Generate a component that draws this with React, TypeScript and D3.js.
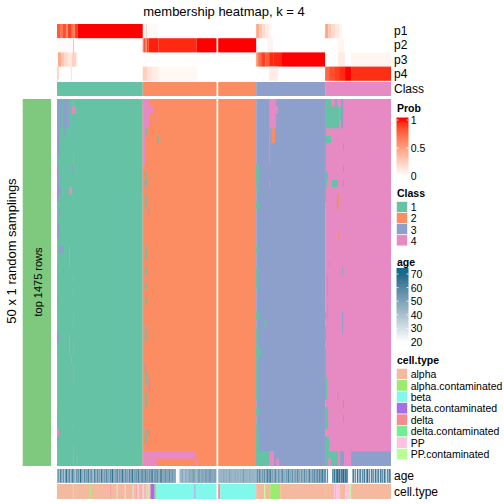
import React from "react";
import * as d3 from "d3";

// ---------------- data ----------------
const classNames = ["1", "2", "3", "4"];
const classColors = ["#66C2A5", "#FC8D62", "#8DA0CB", "#E78AC3"];
const classCounts = [86, 112, 69, 66];
const splitCol = 160;
const nRows = 50;

const cellTypes = ["alpha", "alpha.contaminated", "beta", "beta.contaminated", "delta", "delta.contaminated", "PP", "PP.contaminated"];
const cellTypeColors = ["#F5B9A0", "#9DEB6E", "#80F8EA", "#A36EE6", "#F38B92", "#72ED94", "#FFC3E1", "#B8FE96"];
// [typeIndex, count]
const cellTypeRuns: [number, number][] = [
  [0, 16], [2, 1], [0, 3], [1, 1], [0, 12], [1, 1], [0, 19], [4, 1], [0, 6], [2, 1], [0, 7], [6, 1], [0, 7], [2, 1], [0, 2], [4, 1], [0, 1], [6, 1], [0, 2], [4, 1], [0, 1],
  [6, 1], [0, 1], [4, 1], [6, 1], [1, 1], [0, 1], [7, 1], [4, 1], [3, 4], [5, 2], [2, 38], [3, 1], [2, 21],
  [4, 2], [2, 36],
  [0, 8], [7, 1], [0, 5], [1, 10], [0, 45],
  [0, 9], [6, 1], [0, 1], [6, 4], [0, 5], [6, 5], [7, 1], [0, 40],
];

const ageC1 = [45, 52, 40, 60, 48, 42, 55, 38, 50, 66, 44, 48, 58, 41, 47, 62, 50, 44, 39, 53,
  48, 56, 42, 68, 50, 46, 40, 59, 44, 51, 47, 63, 42, 49, 55, 45, 38, 61, 50, 43,
  57, 46, 52, 40, 66, 48, 44, 54, 42, 60, 47, 50, 41, 58, 45, 69, 49, 43, 52, 46,
  62, 40, 55, 48, 44, 67, 50, 42, 57, 46, 53, 39, 61, 48, 45, 70, 44, 51, 47, 56,
  43, 64, 49, 45, 52, 58];
const ageC2a = [50, 44, 62, 47, 55, 41, 58, 46, 52, 66, 43, 49, 57, 45, 60, 48, 42, 54, 65, 46,
  51, 44, 59, 47, 53, 40, 63, 48, 45, 56, 50, 42, 61, 22, 20, 21, 24, 47, 38, 52,
  44, 35, 50, 41, 48, 36, 55, 42, 50, 40, 58, 45, 52, 38, 48, 44, 60, 41, 50, 46,
  55, 43, 49, 58, 45, 51, 47, 62, 44, 53, 48, 46, 57, 45];
const ageC2b = [44, 46, 45, 47, 44, 50, 46, 45, 48, 44, 46, 52, 45, 47, 44, 46, 45, 49, 44, 47,
  46, 44, 48, 45, 46, 55, 44, 47, 45, 46, 44, 50, 46, 45, 47, 44, 46, 45];
const ageC3 = [48, 58, 46, 62, 50, 45, 55, 47, 60, 44, 52, 66, 48, 58, 64, 46, 53, 45, 50, 61,
  47, 44, 56, 49, 45, 52, 60, 46, 48, 44, 55, 47, 63, 45, 50, 46, 58, 44, 49, 52,
  45, 61, 47, 50, 44, 56, 48, 45, 59, 46, 52, 44, 50, 62, 47, 45, 55, 49, 60, 46,
  53, 58, 47, 62, 50, 55, 64, 48, 57];
const ageC4 = [55, 30, 60, 22, 20, 21, 20, 58, 50, 66, 45, 62, 70, 55, 68, 48, 64, 59, 70, 52,
  66, 61, 56, 22, 20, 21, 20, 45, 62, 40, 55, 28, 66, 38, 50, 60, 33, 58, 44, 63,
  36, 52, 68, 40, 57, 30, 61, 47, 54, 35, 65, 42, 50, 59, 32, 62, 46, 55, 38, 64,
  48, 30, 57, 44, 60, 50];

// [startCol, endCol, prob]
const p1Runs: [number, number, number][] = [
  [0, 2, 0.8], [3, 5, 0.7], [6, 8, 0.85], [9, 10, 0.6], [11, 13, 0.9], [14, 15, 0.75], [16, 17, 0.65], [18, 20, 0.9], [21, 85, 1],
  [89, 89, 0.4], [90, 100, 0.03],
  [198, 200, 0.45], [201, 203, 0.3], [204, 206, 0.2], [207, 210, 0.1], [211, 212, 0.05],
  [267, 269, 0.45], [270, 272, 0.3], [273, 276, 0.2], [277, 280, 0.12], [281, 283, 0.06],
];
const p2Runs: [number, number, number][] = [
  [0, 15, 0.02], [16, 16, 0.35],
  [86, 86, 0.7], [87, 88, 0.85], [89, 89, 0.6], [90, 91, 0.9], [92, 101, 0.97], [102, 139, 0.955], [140, 197, 1],
  [209, 214, 0.06], [280, 285, 0.05],
];
const p3Runs: [number, number, number][] = [
  [1, 3, 0.45], [4, 6, 0.3], [7, 10, 0.2], [11, 14, 0.12], [15, 18, 0.25], [19, 20, 0.08],
  [198, 199, 0.55], [200, 202, 0.75], [203, 206, 0.9], [207, 210, 0.8], [211, 214, 0.95], [215, 222, 0.96], [223, 266, 1],
  [280, 286, 0.1], [293, 332, 0.05],
];
const p4Runs: [number, number, number][] = [
  [0, 1, 0.2], [14, 14, 0.15],
  [86, 90, 0.25], [91, 95, 0.15], [96, 101, 0.1], [102, 140, 0.04],
  [211, 219, 0.1],
  [267, 270, 0.75], [271, 275, 0.85], [276, 280, 0.9], [281, 286, 0.95], [287, 292, 1], [293, 332, 0.94],
];
const probRows = [p1Runs, p2Runs, p3Runs, p4Runs];
const probLabels = ["p1", "p2", "p3", "p4"];

// deviations from column class in the sampling matrix: [row0, row1, col0, col1, class]
const deviations: [number, number, number, number, number][] = [
  [0, 3, 0, 4, 3], [4, 7, 0, 2, 3], [0, 3, 6, 11, 3], [4, 4, 6, 8, 3], [1, 1, 15, 18, 4], [0, 1, 16, 16, 2],
  [7, 8, 16, 16, 2], [9, 9, 15, 15, 3], [9, 13, 0, 1, 3], [12, 12, 2, 3, 3], [12, 12, 12, 14, 4], [13, 13, 16, 16, 2],
  [14, 15, 0, 0, 4], [15, 15, 1, 2, 3], [17, 18, 1, 2, 3], [19, 22, 0, 0, 4], [20, 20, 2, 6, 3], [20, 22, 12, 12, 4],
  [23, 23, 6, 6, 3], [24, 24, 16, 16, 2], [26, 26, 16, 16, 2], [27, 27, 2, 2, 3], [29, 30, 16, 16, 2], [32, 32, 0, 1, 3],
  [32, 34, 12, 12, 4], [33, 34, 16, 16, 2], [35, 35, 14, 14, 4], [35, 38, 0, 0, 4], [36, 38, 16, 16, 2], [38, 41, 0, 0, 4],
  [38, 38, 16, 16, 2], [41, 41, 2, 2, 3], [43, 43, 2, 2, 3], [44, 44, 16, 16, 2], [45, 46, 2, 2, 3], [45, 45, 0, 1, 4],
  [47, 49, 16, 16, 2], [48, 49, 20, 20, 2],
  [0, 3, 86, 92, 4], [1, 1, 93, 96, 4], [2, 2, 100, 100, 4], [4, 8, 86, 88, 4], [4, 4, 89, 89, 1], [5, 5, 101, 101, 1],
  [9, 12, 86, 86, 4], [10, 11, 89, 89, 1], [11, 11, 88, 88, 3], [13, 14, 89, 89, 1], [15, 15, 92, 92, 3], [20, 21, 89, 89, 1],
  [23, 23, 89, 89, 1], [24, 24, 88, 88, 4], [25, 25, 89, 89, 1], [27, 27, 89, 89, 1], [31, 32, 89, 89, 1], [31, 31, 88, 88, 4],
  [36, 36, 88, 88, 3], [37, 38, 89, 89, 1], [38, 39, 92, 92, 3], [40, 41, 89, 89, 1], [45, 46, 89, 89, 1], [45, 45, 92, 92, 3],
  [48, 48, 86, 138, 4], [49, 49, 86, 99, 4], [49, 49, 139, 140, 4],
  [0, 3, 211, 217, 4], [1, 1, 218, 219, 4], [4, 5, 213, 216, 2], [4, 8, 211, 211, 4], [11, 11, 211, 211, 4], [9, 10, 198, 200, 1],
  [11, 11, 198, 199, 1], [12, 12, 200, 200, 1], [14, 14, 198, 200, 1], [20, 20, 198, 199, 1], [23, 25, 198, 199, 1],
  [29, 29, 198, 200, 1], [30, 30, 206, 206, 1], [31, 33, 198, 199, 1], [34, 34, 198, 202, 1], [35, 38, 198, 199, 1],
  [39, 40, 198, 199, 1], [42, 42, 198, 200, 1], [44, 45, 198, 199, 1], [46, 47, 198, 200, 1], [48, 49, 198, 210, 1],
  [48, 49, 211, 215, 4], [49, 49, 218, 220, 4],
  [0, 0, 267, 272, 1], [0, 0, 277, 278, 3], [1, 3, 267, 280, 1], [0, 3, 283, 284, 3], [1, 2, 282, 282, 1], [4, 13, 267, 267, 1],
  [5, 5, 267, 272, 1], [6, 6, 285, 285, 3], [9, 9, 285, 285, 3], [10, 10, 269, 269, 1], [10, 11, 267, 268, 1], [11, 11, 274, 279, 1],
  [11, 11, 285, 285, 3], [13, 14, 280, 280, 2], [13, 14, 279, 279, 1], [18, 18, 280, 280, 2], [19, 20, 281, 281, 2],
  [22, 22, 271, 271, 1], [23, 23, 281, 281, 2], [23, 23, 284, 284, 3], [24, 26, 269, 269, 1], [28, 29, 269, 269, 1],
  [29, 31, 284, 284, 3], [29, 29, 267, 267, 1], [31, 32, 267, 267, 1], [34, 38, 267, 267, 1], [38, 40, 267, 268, 1],
  [42, 44, 267, 269, 1], [46, 47, 267, 270, 1], [40, 40, 279, 279, 1], [40, 42, 281, 281, 2], [41, 41, 285, 285, 3],
  [43, 43, 285, 285, 3], [47, 47, 281, 281, 2], [48, 49, 267, 279, 1], [49, 49, 270, 272, 4], [48, 49, 280, 281, 4],
  [48, 49, 282, 285, 3], [48, 49, 286, 292, 4], [48, 49, 293, 332, 3],
];

const ageTicks = [70, 60, 50, 40, 30, 20];
const probTicks = [1, 0.5, 0];

// ---------------- component ----------------
const FONT = "'Liberation Sans', Arial, Helvetica, sans-serif";

export default function App() {
  const nCols = d3.sum(classCounts);
  const X0 = 57, X1 = 216.5, X2 = 218.2, X3 = 391;
  const xL = d3.scaleLinear().domain([0, splitCol]).range([X0, X1]);
  const xR = d3.scaleLinear().domain([splitCol, nCols]).range([X2, X3]);
  const span = (c0: number, c1: number): [number, number][] => {
    const out: [number, number][] = [];
    if (c0 < splitCol) {
      const e = Math.min(c1, splitCol - 1);
      out.push([xL(c0), xL(e + 1) - xL(c0)]);
    }
    if (c1 >= splitCol) {
      const s = Math.max(c0, splitCol);
      out.push([xR(s), xR(c1 + 1) - xR(s)]);
    }
    return out;
  };
  const colSpan = (c: number): [number, number] => {
    const [x, w] = span(c, c)[0];
    const last = c === splitCol - 1 || c === nCols - 1;
    return [x, last ? w : w + 0.4];
  };

  const rowY = d3.scaleLinear().domain([0, nRows]).range([99, 466]);
  const probColor = d3.scaleLinear<string>().domain([0, 1]).range(["#FFFFFF", "#FF0000"]).interpolate(d3.interpolateLab).clamp(true);
  const ageColor = d3.scaleLinear<string>().domain([20, 70]).range(["#FFFFFF", "#16698A"]).interpolate(d3.interpolateLab).clamp(true);

  const classRanges: [number, number, number][] = [];
  let acc = 0;
  classCounts.forEach((n, i) => {
    classRanges.push([acc, acc + n - 1, i]);
    acc += n;
  });

  const ages = [...ageC1, ...ageC2a, ...ageC2b, ...ageC3, ...ageC4];
  const ctRanges: [number, number, number][] = [];
  acc = 0;
  cellTypeRuns.forEach(([t, n]) => {
    ctRanges.push([acc, acc + n - 1, t]);
    acc += n;
  });

  const probRowTop = [24, 38.2, 52.4, 66.6];
  const probRowH = 14.2;
  const classRowY = 82, classRowH = 14;
  const ageRowY = 469, ageRowH = 13.8;
  const ctRowY = 484, ctRowH = 15;

  const rects: React.ReactNode[] = [];
  let key = 0;
  const addSpan = (c0: number, c1: number, y: number, h: number, fill: string) => {
    span(c0, c1).forEach(([x, w]) => {
      rects.push(<rect key={key++} x={x} y={y} width={w} height={h} fill={fill} />);
    });
  };

  probRows.forEach((runs, i) => {
    runs.forEach(([c0, c1, v]) => addSpan(c0, c1, probRowTop[i], probRowH, probColor(v)));
  });
  classRanges.forEach(([c0, c1, k]) => addSpan(c0, c1, classRowY, classRowH, classColors[k]));
  classRanges.forEach(([c0, c1, k]) => addSpan(c0, c1, rowY(0), rowY(nRows) - rowY(0), classColors[k]));
  deviations.forEach(([r0, r1, c0, c1, k]) => addSpan(c0, c1, rowY(r0), rowY(r1 + 1) - rowY(r0), classColors[k - 1]));
  ages.forEach((a, c) => {
    const [x, w] = colSpan(c);
    rects.push(<rect key={key++} x={x} y={ageRowY} width={w} height={ageRowH} fill={ageColor(a)} />);
  });
  ctRanges.forEach(([c0, c1, t]) => addSpan(c0, c1, ctRowY, ctRowH, cellTypeColors[t]));

  const LX = 396.5;
  const probLegY = d3.scaleLinear().domain([1, 0]).range([120, 176]);
  const ageLegY = d3.scaleLinear().domain([70, 20]).range([274, 342]);
  const probBar = [117.5, 177.5];
  const ageBar = [268, 344];
  const stops = d3.range(0, 1.0001, 0.05);

  const legendText = { fontFamily: FONT, fontSize: 10.5, fill: "#000" } as const;
  const titleText = { fontFamily: FONT, fontSize: 10.5, fontWeight: "bold", fill: "#000" } as const;

  return (
    <svg width={504} height={504} style={{ position: "fixed", left: 0, top: 0, background: "#fff" }}>
      <defs>
        <linearGradient id="probGrad" x1="0" y1="0" x2="0" y2="1">
          {stops.map((t, i) => {
            const y = probBar[0] + t * (probBar[1] - probBar[0]);
            return <stop key={i} offset={t} stopColor={probColor(probLegY.invert(y))} />;
          })}
        </linearGradient>
        <linearGradient id="ageGrad" x1="0" y1="0" x2="0" y2="1">
          {stops.map((t, i) => {
            const y = ageBar[0] + t * (ageBar[1] - ageBar[0]);
            return <stop key={i} offset={t} stopColor={ageColor(ageLegY.invert(y))} />;
          })}
        </linearGradient>
      </defs>
      <rect x={0} y={0} width={504} height={504} fill="#fff" />
      <text x={224} y={16} textAnchor="middle" style={{ fontFamily: FONT, fontSize: 13 }}>membership heatmap, k = 4</text>

      <text transform="translate(15.5,251) rotate(-90)" textAnchor="middle" style={{ fontFamily: FONT, fontSize: 13 }}>50 x 1 random samplings</text>
      <rect x={22.7} y={rowY(0)} width={28.3} height={rowY(nRows) - rowY(0)} fill="#7FC97F" />
      <text transform="translate(41.5,282) rotate(-90)" textAnchor="middle" style={{ fontFamily: FONT, fontSize: 11 }}>top 1475 rows</text>

      {rects}

      {probLabels.map((l, i) => (
        <text key={l} x={394} y={probRowTop[i] + probRowH / 2} dominantBaseline="central" style={{ fontFamily: FONT, fontSize: 12 }}>{l}</text>
      ))}
      <text x={394} y={classRowY + classRowH / 2} dominantBaseline="central" style={{ fontFamily: FONT, fontSize: 12 }}>Class</text>
      <text x={394} y={ageRowY + ageRowH / 2} dominantBaseline="central" style={{ fontFamily: FONT, fontSize: 12 }}>age</text>
      <text x={394} y={ctRowY + ctRowH / 2} dominantBaseline="central" style={{ fontFamily: FONT, fontSize: 12 }}>cell.type</text>

      <text x={LX + 0.5} y={112} style={titleText}>Prob</text>
      <rect x={LX} y={probBar[0]} width={12} height={probBar[1] - probBar[0]} fill="url(#probGrad)" />
      {probTicks.map((t) => (
        <g key={t}>
          <line x1={LX} x2={LX + 2} y1={probLegY(t)} y2={probLegY(t)} stroke="#fff" strokeWidth={0.8} />
          <line x1={LX + 10} x2={LX + 12} y1={probLegY(t)} y2={probLegY(t)} stroke="#fff" strokeWidth={0.8} />
          <text x={LX + 14.2} y={probLegY(t)} dominantBaseline="central" style={legendText}>{String(t)}</text>
        </g>
      ))}

      <text x={LX + 0.5} y={196.5} style={titleText}>Class</text>
      {classNames.map((c, i) => (
        <g key={c}>
          <rect x={LX} y={201.5 + i * 11.1} width={11} height={11.1} fill={classColors[i]} stroke="#fff" strokeWidth={0.6} />
          <text x={LX + 14.2} y={201.5 + i * 11.1 + 5.8} dominantBaseline="central" style={legendText}>{c}</text>
        </g>
      ))}

      <text x={LX + 0.5} y={266} style={titleText}>age</text>
      <rect x={LX} y={ageBar[0]} width={12} height={ageBar[1] - ageBar[0]} fill="url(#ageGrad)" />
      {ageTicks.map((t) => (
        <g key={t}>
          <line x1={LX} x2={LX + 2} y1={ageLegY(t)} y2={ageLegY(t)} stroke="#fff" strokeWidth={0.8} />
          <line x1={LX + 10} x2={LX + 12} y1={ageLegY(t)} y2={ageLegY(t)} stroke="#fff" strokeWidth={0.8} />
          <text x={LX + 14.2} y={ageLegY(t)} dominantBaseline="central" style={legendText}>{String(t)}</text>
        </g>
      ))}

      <text x={LX + 0.5} y={364} style={titleText}>cell.type</text>
      {cellTypes.map((c, i) => (
        <g key={c}>
          <rect x={LX} y={368.3 + i * 11.43} width={11} height={11.43} fill={cellTypeColors[i]} stroke="#fff" strokeWidth={0.6} />
          <text x={LX + 14.2} y={368.3 + i * 11.43 + 5.9} dominantBaseline="central" style={legendText}>{c}</text>
        </g>
      ))}
    </svg>
  );
}
